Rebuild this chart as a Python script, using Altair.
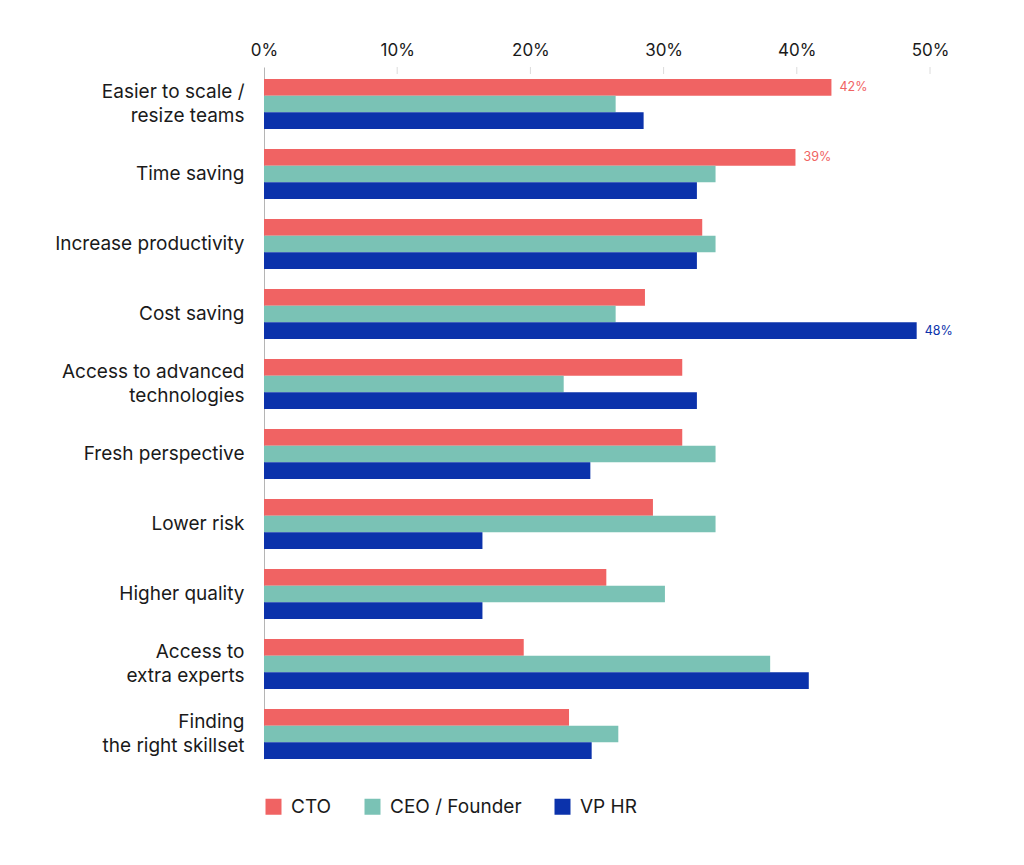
import altair as alt
import pandas as pd

categories = [
    "Easier to scale /|resize teams",
    "Time saving",
    "Increase productivity",
    "Cost saving",
    "Access to advanced|technologies",
    "Fresh perspective",
    "Lower risk",
    "Higher quality",
    "Access to|extra experts",
    "Finding|the right skillset",
]
series_names = ["CTO", "CEO / Founder", "VP HR"]
series_colors = ["#F06363", "#7AC2B5", "#0B32AB"]

cto = [42.6, 39.9, 32.9, 28.6, 31.4, 31.4, 29.2, 25.7, 19.5, 22.9]
ceo = [26.4, 33.9, 33.9, 26.4, 22.5, 33.9, 33.9, 30.1, 38.0, 26.6]
vp_hr = [28.5, 32.5, 32.5, 49.0, 32.5, 24.5, 16.4, 16.4, 40.9, 24.6]

cto_labels = ["42%", "39%", "", "", "", "", "", "", "", ""]
ceo_labels = ["", "", "", "", "", "", "", "", "", ""]
vp_labels = ["", "", "", "48%", "", "", "", "", "", ""]

tick_values = [0, 10, 20, 30, 40, 50]

rows = []
for name, vals, labs in zip(series_names, [cto, ceo, vp_hr], [cto_labels, ceo_labels, vp_labels]):
    for c, v, l in zip(categories, vals, labs):
        rows.append({"category": c, "series": name, "value": v, "label": l})
df = pd.DataFrame(rows)

FONT = "Inter"
TXT = "#1a1a1a"

y_enc = alt.Y(
    "category:N",
    sort=categories,
    scale=alt.Scale(paddingInner=20 / 70, paddingOuter=6 / 70, align=1),
    axis=alt.Axis(
        title=None,
        labelExpr="split(datum.label, '|')",
        labelFont=FONT,
        labelFontSize=19,
        labelColor=TXT,
        labelPadding=20,
        labelLineHeight=24,
        labelBaseline="middle",
        labelOffset={"condition": {"test": "indexof(datum.value, '|') >= 0", "value": -12}, "value": 0},
        ticks=False,
        domainColor="#b5b5b5",
        domainWidth=1,
        grid=False,
        labelLimit=300,
    ),
)
yoff = alt.YOffset("series:N", sort=series_names, scale=alt.Scale(paddingInner=0, paddingOuter=0))
x_axis = alt.Axis(
    orient="top",
    title=None,
    values=tick_values,
    labelExpr="datum.value + '%'",
    labelFont=FONT,
    labelFontSize=17,
    labelColor=TXT,
    labelPadding=8,
    labelFlush=False,
    ticks=False,
    domain=False,
    grid=False,
)
x_scale = alt.Scale(domain=[0, 50], nice=False)
x_enc = alt.X("value:Q", scale=x_scale, axis=x_axis)
color_enc = alt.Color(
    "series:N",
    sort=series_names,
    scale=alt.Scale(domain=series_names, range=series_colors),
    legend=alt.Legend(
        title=None,
        orient="none",
        legendX=0,
        legendY=730,
        direction="horizontal",
        symbolType="square",
        symbolSize=256,
        symbolStrokeWidth=0,
        symbolOpacity=1,
        labelFont=FONT,
        labelFontSize=19,
        labelColor=TXT,
        labelOffset=8,
        columnPadding=31,
    ),
)

bars = alt.Chart(df).mark_bar().encode(y=y_enc, yOffset=yoff, x=x_enc, color=color_enc)

texts = (
    alt.Chart(df)
    .transform_filter("datum.label != ''")
    .mark_text(align="left", baseline="middle", dx=8, fontSize=12.5, font=FONT)
    .encode(y=y_enc, yOffset=yoff, x=x_enc, text="label:N", color=color_enc)
)

ticks_df = pd.DataFrame({"value": tick_values[1:]})
tick_rules = (
    alt.Chart(ticks_df)
    .mark_rule(color="#dcdcdc", strokeWidth=1)
    .encode(x=alt.X("value:Q", scale=x_scale, axis=x_axis), y=alt.value(0), y2=alt.value(7))
)

chart = (
    alt.layer(tick_rules, bars, texts)
    .properties(
        width=666,
        height=692,
        background="white",
        autosize=alt.AutoSizeParams(type="none"),
        padding={"left": 264, "top": 67, "right": 94, "bottom": 106},
    )
    .configure_view(stroke=None, strokeWidth=0)
    .configure_axis(grid=False)
)

chart.save("out.html", embed_options={"renderer": "svg", "actions": False})
